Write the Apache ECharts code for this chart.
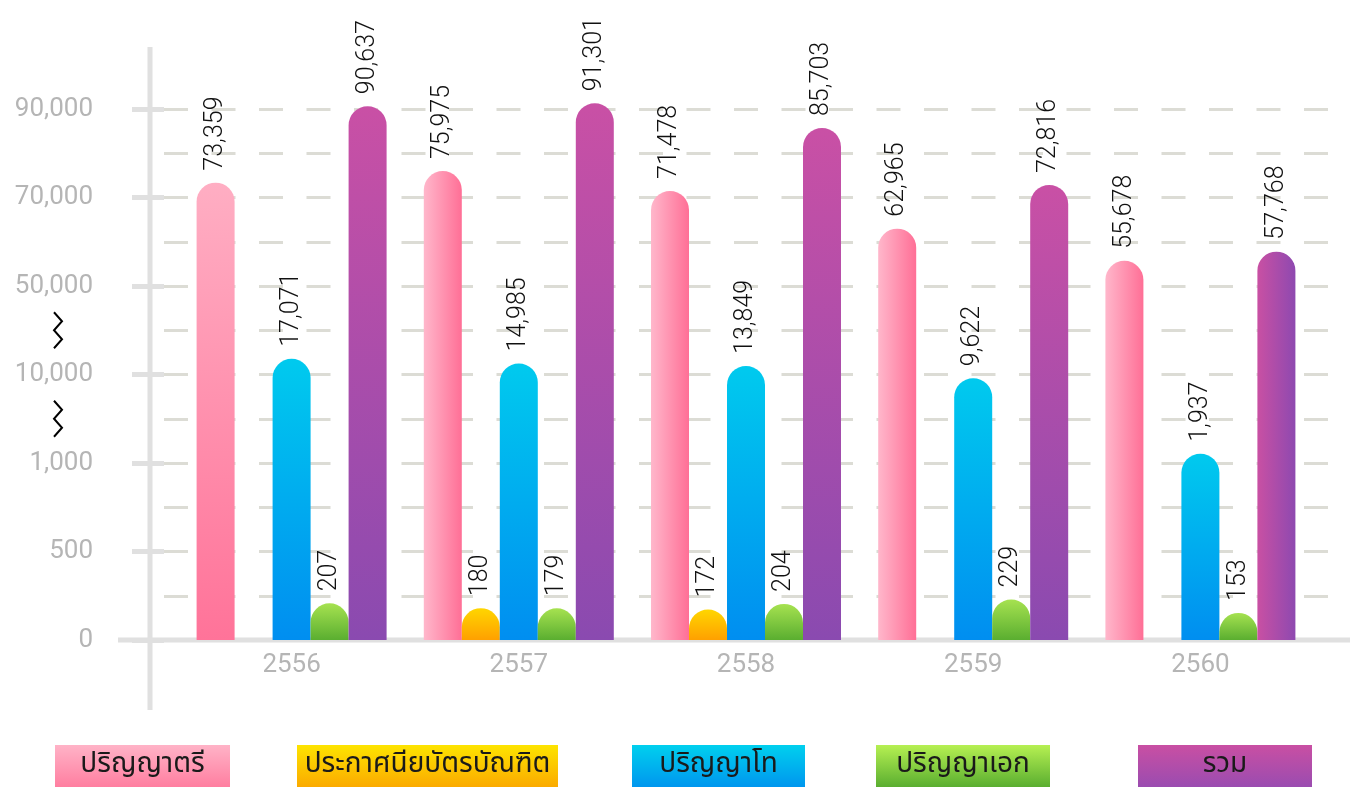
<!DOCTYPE html>
<html>
<head>
<meta charset="utf-8">
<script src="https://cdn.jsdelivr.net/npm/echarts@6/dist/echarts.min.js"></script>
<style>html,body{margin:0;padding:0;background:#fff}#c{width:1350px;height:787px}</style>
</head>
<body>
<div id="c"></div>
<script>
// ---------- data ----------
const categories = ['2556', '2557', '2558', '2559', '2560'];
const seriesNames = ['ปริญญาตรี', 'ประกาศนียบัตรบัณฑิต', 'ปริญญาโท', 'ปริญญาเอก', 'รวม'];
const bachelor = [73359, 75975, 71478, 62965, 55678];
const gradDiploma = [null, 180, 172, null, null];
const master = [17071, 14985, 13849, 9622, 1937];
const doctoral = [207, 179, 204, 229, 153];
const total = [90637, 91301, 85703, 72816, 57768];
const yTickValues = [0, 500, 1000, 10000, 50000, 70000, 90000];

// ---------- layout / style ----------
const NUM_FONT = "Roboto, 'Noto Sans', sans-serif";
const THAI_FONT = "'Noto Sans Thai', 'Noto Sans', sans-serif";
const GRID_TOP = 109, GRID_BOTTOM = 147, H = 787, W = 1350;
const AXIS_X = 150;
const zeroY = H - GRID_BOTTOM;

// piecewise (broken) axis: each labelled value sits one unit apart
function toAxis(v) {
  if (v == null) return null;
  const b = yTickValues;
  for (let i = 0; i < b.length - 1; i++) {
    if (v <= b[i + 1]) return i + (v - b[i]) / (b[i + 1] - b[i]);
  }
  const n = b.length - 1;
  return n + (v - b[n]) / (b[n] - b[n - 1]);
}
function grad(dir, c1, c2) {
  return dir === 'h'
    ? { type: 'linear', x: 0, y: 0, x2: 1, y2: 0, colorStops: [{ offset: 0, color: c1 }, { offset: 1, color: c2 }] }
    : { type: 'linear', x: 0, y: 0, x2: 0, y2: 1, colorStops: [{ offset: 0, color: c1 }, { offset: 1, color: c2 }] };
}
const pinkV = grad('v', '#ffaec3', '#ff7399');
const pinkH = grad('h', '#ffb7cb', '#ff6f96');
const orangeV = grad('v', '#ffd600', '#ffa000');
const blueV = grad('v', '#00caee', '#008ef0');
const greenV = grad('v', '#a6e250', '#5aae30');
const purpleV = grad('v', '#c950a5', '#8a4ab0');
const purpleH = grad('h', '#c950a3', '#8e49b0');
const styleFns = [
  i => (i === 0 ? pinkV : pinkH),
  () => orangeV,
  () => blueV,
  () => greenV,
  i => (i === 4 ? purpleH : purpleV)
];
const allValues = [bachelor, gradDiploma, master, doctoral, total];

function makeSeries(k) {
  const values = allValues[k];
  return {
    name: seriesNames[k], type: 'bar', xAxisIndex: 1, yAxisIndex: 1,
    barWidth: 38, barGap: '0%', clip: false,
    itemStyle: { borderRadius: [19, 19, 0, 0], color: styleFns[k](1) },
    data: values.map((v, i) => v == null ? null : { value: toAxis(v), raw: v, itemStyle: { color: styleFns[k](i) } }),
    label: {
      show: true, position: 'top', rotate: 90, align: 'left', verticalAlign: 'middle',
      distance: 12, fontSize: 25, fontWeight: 300, color: '#111', fontFamily: NUM_FONT,
      formatter: p => (p.data && p.data.raw != null ? p.data.raw.toLocaleString('en-US') : '')
    }
  };
}

const legendLeft = [55, 297, 632, 876, 1138];
const legendWidth = [175, 261, 173, 174, 174];
const legendFill = [
  grad('v', '#ffb3c7', '#ff7ea0'),
  grad('v', '#fde400', '#fbaa00'),
  grad('v', '#00d0ee', '#0096ee'),
  grad('v', '#b6f052', '#5aae30'),
  grad('v', '#c94fa3', '#9a4cb0')
];

const gridLine = { color: '#dcdcd5', width: 3, type: [24, 23.5] };

const option = {
  backgroundColor: '#fff',
  animation: false,
  grid: [
    { left: 164, right: 15, top: GRID_TOP, bottom: GRID_BOTTOM },
    { left: 178, right: 36, top: GRID_TOP, bottom: GRID_BOTTOM }
  ],
  xAxis: [
    { gridIndex: 0, type: 'value', min: 0, max: 1, show: false },
    {
      gridIndex: 1, type: 'category', data: categories,
      axisLine: { show: false }, axisTick: { show: false },
      axisLabel: { color: '#b5b5b5', fontSize: 26, margin: 12, fontFamily: NUM_FONT }
    }
  ],
  yAxis: [
    {
      gridIndex: 0, type: 'value', min: 0, max: yTickValues.length - 1, interval: 1, offset: 14,
      axisLine: { show: false },
      axisTick: { show: true, length: 32, lineStyle: { color: '#e0e0e0', width: 5 } },
      axisLabel: {
        color: '#b5b5b5', fontSize: 26, margin: 57, fontFamily: NUM_FONT,
        formatter: v => {
          const i = Math.round(v);
          return yTickValues[i] != null ? yTickValues[i].toLocaleString('en-US') : '';
        }
      },
      splitLine: { show: true, lineStyle: gridLine },
      minorTick: { show: false, splitNumber: 2 },
      minorSplitLine: { show: true, lineStyle: gridLine }
    },
    { gridIndex: 1, type: 'value', min: 0, max: yTickValues.length - 1, show: false }
  ],
  legend: seriesNames.map((n, i) => ({
    data: [n], left: legendLeft[i] - 5, top: 745, padding: 0,
    itemWidth: 0, itemHeight: 42, icon: 'none', selectedMode: false,
    formatter: '{a|{name}}',
    textStyle: {
      rich: {
        a: {
          width: legendWidth[i], height: 42, lineHeight: 42, align: 'center',
          backgroundColor: legendFill[i], fontSize: 28, color: '#1a1a1a', fontFamily: THAI_FONT
        }
      }
    }
  })),
  series: [0, 1, 2, 3, 4].map(makeSeries)
};

const chart = echarts.init(document.getElementById('c'), null, { renderer: 'canvas' });
chart.setOption(option);

// decorative axis lines and break marks
const yb1 = chart.convertToPixel({ yAxisIndex: 0 }, 2.5);
const yb2 = chart.convertToPixel({ yAxisIndex: 0 }, 3.5);
function zig(cy) {
  const pts = [[-4, -18], [4, -9], [-4, 0], [4, 9], [-4, 18]].map(p => [58 + p[0], cy + p[1]]);
  return { type: 'polyline', shape: { points: pts }, style: { stroke: '#000', lineWidth: 2, fill: null }, z: 5 };
}
chart.setOption({
  graphic: [
    { type: 'line', shape: { x1: AXIS_X, y1: 47, x2: AXIS_X, y2: 710 }, style: { stroke: '#e0e0e0', lineWidth: 5 }, z: 1 },
    { type: 'line', shape: { x1: 118, y1: zeroY, x2: W, y2: zeroY }, style: { stroke: '#e0e0e0', lineWidth: 5 }, z: 1 },
    zig(yb1), zig(yb2)
  ]
});
</script>
</body>
</html>
